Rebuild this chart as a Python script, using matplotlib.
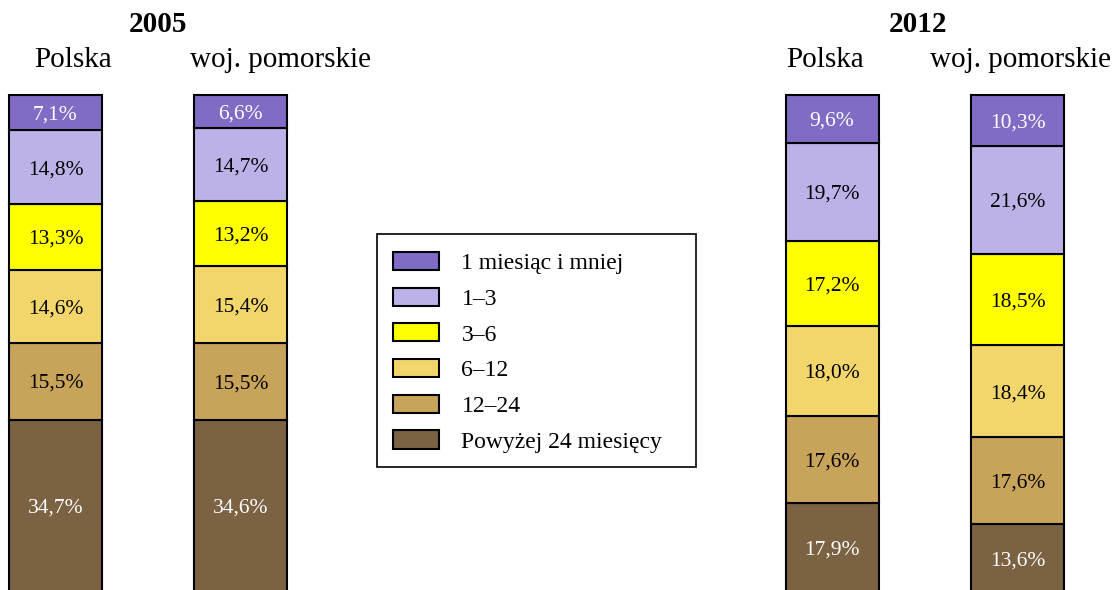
import matplotlib.pyplot as plt
from matplotlib.patches import Patch, Rectangle

plt.rcParams['font.family'] = ['Liberation Serif', 'DejaVu Serif']

# Categories (top of bar first, same order as legend)
categories = ['1 miesiąc i mniej', '1–3', '3–6', '6–12', '12–24', 'Powyżej 24 miesięcy']
colors = ['#806CC4', '#BCB2E8', '#FFFF00', '#F3D66B', '#C8A45A', '#7A6243']
text_colors = ['white', 'black', 'black', 'black', 'black', 'white']

# Values in % for each bar, same order as categories
polska_2005 = [7.1, 14.8, 13.3, 14.6, 15.5, 34.7]
pomorskie_2005 = [6.6, 14.7, 13.2, 15.4, 15.5, 34.6]
polska_2012 = [9.6, 19.7, 17.2, 18.0, 17.6, 17.9]
pomorskie_2012 = [10.3, 21.6, 18.5, 18.4, 17.6, 13.6]

bar_labels = ['Polska', 'woj. pomorskie', 'Polska', 'woj. pomorskie']
years = ['2005', '2012']

W, H = 1118, 590
fig = plt.figure(figsize=(W / 100, H / 100), dpi=100)
ax = fig.add_axes([0, 0, 1, 1])
ax.set_xlim(0, W)
# scale: 100% spans pixel 95..592
px_per = 4.97
ax.set_ylim((592 - H) / px_per, 592 / px_per)
ax.axis('off')

bars = [polska_2005, pomorskie_2005, polska_2012, pomorskie_2012]
centers = [55.5, 240.5, 832, 1017.5]
width = 93

for xc, vals in zip(centers, bars):
    bottom = 0
    # draw from the bottom segment upwards
    for i in reversed(range(len(vals))):
        v = vals[i]
        ax.bar(xc, v, width=width, bottom=bottom, color=colors[i],
               edgecolor='black', linewidth=1.5)
        label = f'{v:.1f}%'.replace('.', ',')
        ax.text(xc, bottom + v / 2, label, ha='center', va='center_baseline',
                fontsize=15.5, color=text_colors[i])
        bottom += v

# headers
fig.text(158 / W, 1 - 25 / H, years[0], ha='center', va='center',
         fontsize=21, fontweight='bold')
fig.text(918 / W, 1 - 25 / H, years[1], ha='center', va='center',
         fontsize=21, fontweight='bold')
label_x = [73, 280, 825, 1020]
for lx, name in zip(label_x, bar_labels):
    fig.text(lx / W, 1 - 60 / H, name, ha='center', va='center', fontsize=21)

# legend box
fig.add_artist(Rectangle((377 / W, 1 - 467 / H), 319 / W, 233 / H,
                         transform=fig.transFigure, fill=False,
                         edgecolor='black', linewidth=1.2))
handles = [Patch(facecolor=c, edgecolor='black', linewidth=1.5) for c in colors]
leg = fig.legend(handles, categories, loc='upper left',
                 bbox_to_anchor=(393 / W, 1 - 252 / H),
                 fontsize=17, frameon=False,
                 handlelength=1.95, handleheight=0.8,
                 handletextpad=0.95, labelspacing=0.57, borderpad=0,
                 borderaxespad=0)

fig.savefig('out.png', dpi=100)
